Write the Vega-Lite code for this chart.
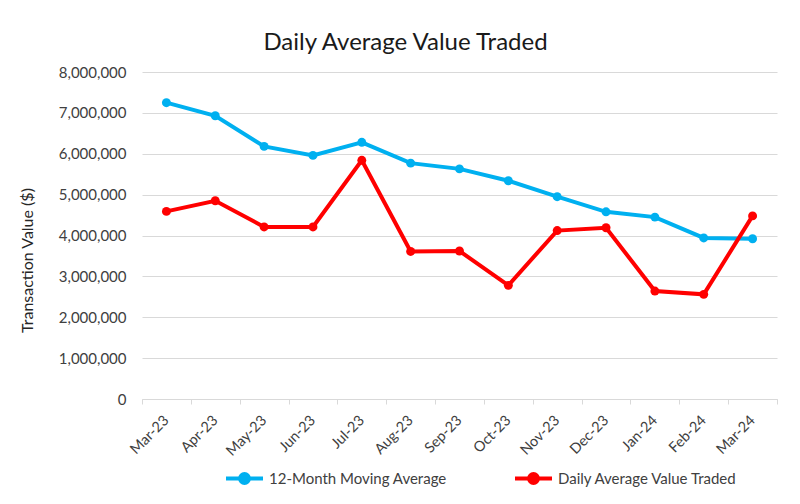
{
  "$schema": "https://vega.github.io/schema/vega-lite/v6.json",
  "autosize": "none",
  "width": 635,
  "height": 327,
  "padding": {"left": 142, "top": 72, "right": 23, "bottom": 105},
  "background": "white",
  "config": {
    "font": "Lato",
    "view": {"stroke": null},
    "axis": {"labelColor": "#404040", "titleColor": "#262626", "labelFont": "Lato", "titleFont": "Lato", "titleFontSize": 16},
    "legend": {"labelFont": "Lato", "labelColor": "#404040"}
  },
  "title": {
    "text": "Daily Average Value Traded",
    "font": "Lato",
    "fontSize": 24,
    "fontWeight": "normal",
    "color": "#1a1a1a",
    "anchor": "middle",
    "dx": -54,
    "offset": 10
  },
  "data": {
    "values": [
      {"month": "Mar-23", "series": "12-Month Moving Average", "value": 7250000},
      {"month": "Apr-23", "series": "12-Month Moving Average", "value": 6930000},
      {"month": "May-23", "series": "12-Month Moving Average", "value": 6180000},
      {"month": "Jun-23", "series": "12-Month Moving Average", "value": 5960000},
      {"month": "Jul-23", "series": "12-Month Moving Average", "value": 6280000},
      {"month": "Aug-23", "series": "12-Month Moving Average", "value": 5770000},
      {"month": "Sep-23", "series": "12-Month Moving Average", "value": 5630000},
      {"month": "Oct-23", "series": "12-Month Moving Average", "value": 5340000},
      {"month": "Nov-23", "series": "12-Month Moving Average", "value": 4950000},
      {"month": "Dec-23", "series": "12-Month Moving Average", "value": 4580000},
      {"month": "Jan-24", "series": "12-Month Moving Average", "value": 4450000},
      {"month": "Feb-24", "series": "12-Month Moving Average", "value": 3940000},
      {"month": "Mar-24", "series": "12-Month Moving Average", "value": 3920000},
      {"month": "Mar-23", "series": "Daily Average Value Traded", "value": 4590000},
      {"month": "Apr-23", "series": "Daily Average Value Traded", "value": 4850000},
      {"month": "May-23", "series": "Daily Average Value Traded", "value": 4210000},
      {"month": "Jun-23", "series": "Daily Average Value Traded", "value": 4210000},
      {"month": "Jul-23", "series": "Daily Average Value Traded", "value": 5840000},
      {"month": "Aug-23", "series": "Daily Average Value Traded", "value": 3610000},
      {"month": "Sep-23", "series": "Daily Average Value Traded", "value": 3620000},
      {"month": "Oct-23", "series": "Daily Average Value Traded", "value": 2780000},
      {"month": "Nov-23", "series": "Daily Average Value Traded", "value": 4120000},
      {"month": "Dec-23", "series": "Daily Average Value Traded", "value": 4190000},
      {"month": "Jan-24", "series": "Daily Average Value Traded", "value": 2640000},
      {"month": "Feb-24", "series": "Daily Average Value Traded", "value": 2560000},
      {"month": "Mar-24", "series": "Daily Average Value Traded", "value": 4480000}
    ]
  },
  "mark": {"type": "line", "strokeWidth": 4, "point": {"filled": true, "size": 80}},
  "encoding": {
    "x": {
      "field": "month",
      "type": "ordinal",
      "sort": null,
      "scale": {"type": "band", "paddingInner": 0, "paddingOuter": 0},
      "axis": {
        "title": null,
        "labelAngle": -45,
        "labelAlign": "right",
        "labelBaseline": "middle",
        "labelFontSize": 14.5,
        "labelPadding": 14,
        "tickBand": "extent",
        "domainColor": "#D9D9D9",
        "tickColor": "#D9D9D9",
        "tickSize": 5,
        "grid": false
      }
    },
    "y": {
      "field": "value",
      "type": "quantitative",
      "scale": {"domain": [0, 8000000], "nice": false},
      "axis": {
        "title": "Transaction Value ($)",
        "titleFontSize": 16,
        "titleFontWeight": "normal",
        "titleX": -115,
        "titleY": 188,
        "titleAngle": -90,
        "titleAlign": "center",
        "titleBaseline": "middle",
        "titleLimit": 0,
        "encode": {"title": {"update": {"fontSize": {"value": 16}}}},
        "values": [0, 1000000, 2000000, 3000000, 4000000, 5000000, 6000000, 7000000, 8000000],
        "format": ",d",
        "labelFontSize": 15,
        "labelPadding": 16,
        "domain": false,
        "ticks": false,
        "gridColor": "#D9D9D9",
        "gridWidth": 1
      }
    },
    "color": {
      "field": "series",
      "type": "nominal",
      "scale": {"domain": ["12-Month Moving Average", "Daily Average Value Traded"], "range": ["#00B0F0", "#FF0000"]},
      "legend": {
        "title": null,
        "orient": "none",
        "legendX": 82,
        "legendY": 386,
        "direction": "horizontal",
        "columns": 2,
        "columnPadding": 60,
        "labelFontSize": 15,
        "labelLimit": 0,
        "labelOffset": 4,
        "symbolType": "M-1,0H1M0.24,0A0.24,0.24 0 1,1 -0.24,0A0.24,0.24 0 1,1 0.24,0Z",
        "symbolSize": 1369,
        "symbolStrokeWidth": 4
      }
    }
  }
}
